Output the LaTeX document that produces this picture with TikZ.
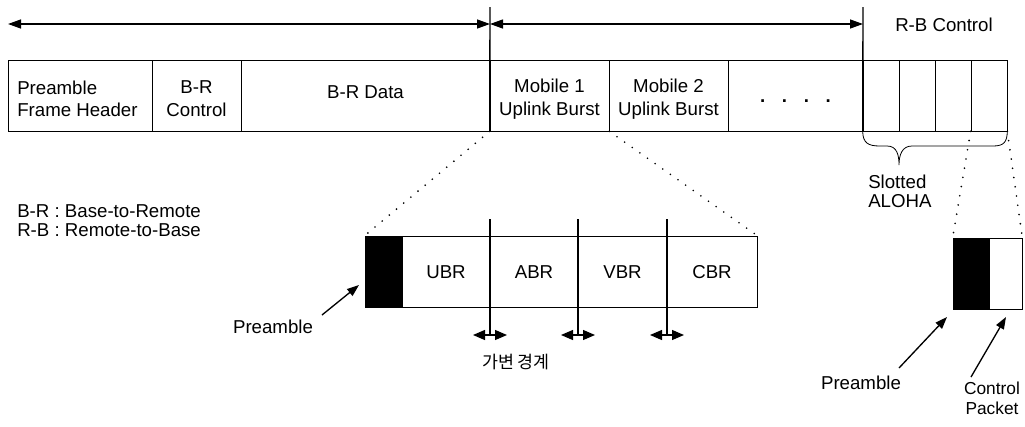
\documentclass[tikz,border=0pt]{standalone}
\usepackage{fontspec}
\setmainfont{Liberation Sans}
\newfontfamily\krfont{Noto Sans CJK KR}
\usetikzlibrary{arrows.meta,fit}
\newcommand\lblfont{\fontsize{14}{17.2}\selectfont}
\begin{document}
\begin{tikzpicture}[x=0.75pt,y=-0.75pt,
  cell/.style={draw, line width=0.5pt, inner sep=0pt},
  txt/.style={inner sep=0pt, font=\lblfont},
  celltxt/.style={txt, align=center, yshift=-2.5pt},
  bar/.style={line width=1pt},
  span/.style={line width=1pt, {Triangle[length=9.75pt,width=6.75pt]}-{Triangle[length=9.75pt,width=6.75pt]}},
  shiftarrow/.style={line width=0.9pt, {Triangle[length=9pt,width=7.5pt]}-{Triangle[length=9pt,width=7.5pt]}},
  zoomline/.style={line width=1.4pt, dash pattern=on 0pt off 7pt, line cap=round},
  pointer/.style={line width=1pt, -{Triangle[length=9pt,width=6.5pt]}}]
\useasboundingbox (0,0) rectangle (1025,426);

% frame fields
\node[cell, fit={(8,60) (152,131)}] (hdr) {};
\node[cell, fit={(152,60) (241,131)}] (brc) {};
\node[cell, fit={(241,60) (490,131)}] (brd) {};
\node[cell, fit={(490,60) (609,131)}] (m1) {};
\node[cell, fit={(609,60) (728,131)}] (m2) {};
\node[cell, fit={(728,60) (863,131)}] (more) {};
\node[cell, fit={(863,60) (899,131)}] (s1) {};
\node[cell, fit={(899,60) (935,131)}] (s2) {};
\node[cell, fit={(935,60) (971,131)}] (s3) {};
\node[cell, fit={(971,60) (1007,131)}] (s4) {};

\node[celltxt, align=left, anchor=west] (hdrt) at (17,95.5) {Preamble\\Frame Header};
\node[celltxt] (brct) at (brc.center) {B-R\\Control};
\node[txt] (brdt) at (365.5,92) {B-R Data};
\node[celltxt] (m1t) at (m1.center) {Mobile 1\\Uplink Burst};
\node[celltxt] (m2t) at (m2.center) {Mobile 2\\Uplink Burst};
\node[txt, anchor=base] (dots) at (795.5,102.5) {\textbf{.}\hspace{12.5pt}\textbf{.}\hspace{12.5pt}\textbf{.}\hspace{12.5pt}\textbf{.}};

% span markers
\coordinate (t1) at (490,7);
\coordinate (t2) at (863,7);
\draw[bar] (t1) -- (m1.south west);
\draw[bar] (t2) -- (s1.south west);
\coordinate (a0) at (8,24);
\coordinate (a1) at (490,24);
\coordinate (a2) at (863,24);
\draw[span] (a0) -- (a1);
\draw[span] (a1) -- (a2);
\node[txt] (rbc) at (944,25) {R-B Control};

% brace under the contention slots
\draw[line width=0.6pt] (s1.south west) .. controls (863,143) and (868,146) .. (880,146)
  -- (887,146) .. controls (897,146) and (899,155) .. (899,165)
  .. controls (899,155) and (902,146) .. (912,146) -- (993,146)
  .. controls (1004,146) and (1007,142) .. (s4.south east);
\node[txt, align=left, anchor=west, font=\fontsize{14}{14.5}\selectfont] (aloha) at (868,191) {Slotted\\ALOHA};

% legend
\node[txt, anchor=west] (leg1) at (17,211) {B-R : Base-to-Remote};
\node[txt, anchor=west] (leg2) at (17,230) {R-B : Remote-to-Base};

% uplink burst detail
\node[cell, fill=black, fit={(365,236) (402,307)}] (pre) {};
\node[cell, fit={(402,236) (490,307)}] (ubr) {};
\node[cell, fit={(490,236) (578,307)}] (abr) {};
\node[cell, fit={(578,236) (667,307)}] (vbr) {};
\node[cell, fit={(667,236) (757,307)}] (cbr) {};
\node[txt] (ubrt) at (446,272) {UBR};
\node[txt] (abrt) at (534,272) {ABR};
\node[txt] (vbrt) at (622.5,272) {VBR};
\node[txt] (cbrt) at (712,272) {CBR};
\draw[zoomline] (m1.south west) -- (pre.north west);
\draw[zoomline] (m1.south east) -- (cbr.north east);

% movable boundaries
\coordinate (d1t) at (490,219); \coordinate (d1b) at (490,335);
\coordinate (d2t) at (578,219); \coordinate (d2b) at (578,335);
\coordinate (d3t) at (667,219); \coordinate (d3b) at (667,335);
\draw[bar] (d1t) -- (d1b);
\draw[bar] (d2t) -- (d2b);
\draw[bar] (d3t) -- (d3b);
\coordinate (e1l) at (473,335); \coordinate (e1r) at (507,335);
\coordinate (e2l) at (561,335); \coordinate (e2r) at (595,335);
\coordinate (e3l) at (650,335); \coordinate (e3r) at (684,335);
\draw[shiftarrow] (e1l) -- (e1r);
\draw[shiftarrow] (e2l) -- (e2r);
\draw[shiftarrow] (e3l) -- (e3r);
\node[txt, font=\krfont\fontsize{13}{15}\selectfont] (vb) at (516,362) {가변 경계};

\node[txt] (lp) at (273,327) {Preamble};
\coordinate (lpt) at (322,315);
\coordinate (lph) at (359,285);
\draw[pointer] (lpt) -- (lph);

% control packet detail
\node[cell, fill=black, fit={(953,238) (989,309)}] (cpre) {};
\node[cell, fit={(989,238) (1022,309)}] (cpkt) {};
\draw[zoomline] (s4.south west) -- (cpre.north west);
\draw[zoomline] (s4.south east) -- (cpkt.north east);

\node[txt] (rp) at (861,383) {Preamble};
\coordinate (rpt) at (899,368);
\coordinate (rph) at (947,317);
\draw[pointer] (rpt) -- (rph);
\node[txt, align=center, font=\fontsize{13}{15}\selectfont] (cp) at (992,398) {Control\\Packet};
\coordinate (cpt) at (971,377);
\coordinate (cph) at (1006,317);
\draw[pointer] (cpt) -- (cph);
\end{tikzpicture}
\end{document}
